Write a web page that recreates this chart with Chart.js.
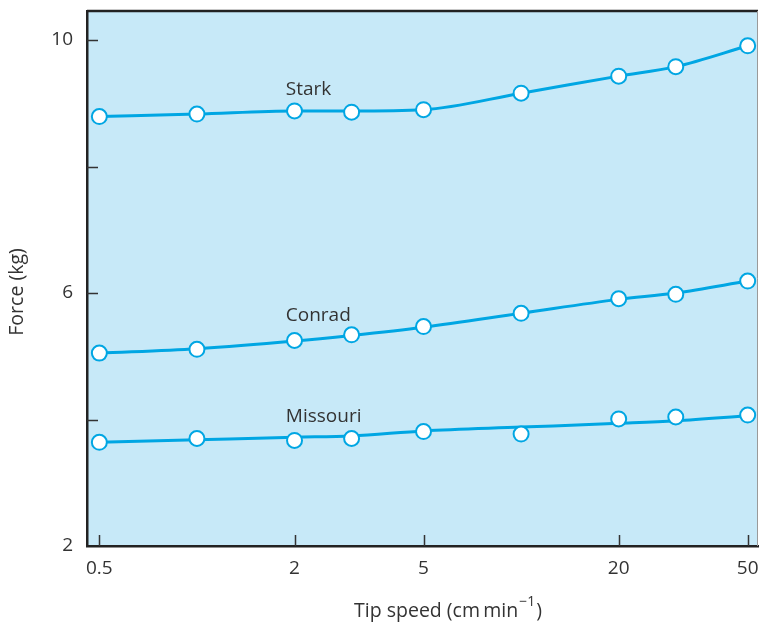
<!DOCTYPE html>
<html>
<head>
<meta charset="utf-8">
<script src="https://cdn.jsdelivr.net/npm/chart.js@4.4.1/dist/chart.umd.min.js"></script>
<style>
  body { margin: 0; background: #fff; }
  #wrap { width: 759px; height: 625px; }
</style>
</head>
<body>
<div id="wrap"><canvas id="chart" width="759" height="625"></canvas></div>
<script>
// tip speed (cm/min) for each measurement
const speeds = [0.5, 1, 2, 3, 5, 10, 20, 30, 50];

// measured force (kg) per variety
const stark = [8.79, 8.83, 8.88, 8.86, 8.90, 9.16, 9.43, 9.58, 9.91];
const conrad = [5.05, 5.11, 5.25, 5.34, 5.47, 5.68, 5.91, 5.98, 6.19];
const missouri = [3.64, 3.70, 3.67, 3.70, 3.81, 3.77, 4.01, 4.04, 4.07];

// drawn smooth curve at the same speeds
const starkCurve = [8.79, 8.83, 8.88, 8.88, 8.90, 9.16, 9.43, 9.58, 9.91];
const conradCurve = [5.05, 5.12, 5.24, 5.33, 5.46, 5.68, 5.90, 6.00, 6.19];
const missouriCurve = [3.64, 3.68, 3.72, 3.74, 3.82, 3.88, 3.94, 3.98, 4.06];

// axis ticks
const xTicks = [0.5, 2, 5, 20, 50];
const yTicks = [2, 4, 6, 8, 10];
const yLabelled = [2, 6, 10];

// series name labels, placed in data coordinates
const seriesNames = ["Stark", "Conrad", "Missouri"];
const nameX = [1.88, 1.88, 1.88];
const nameY = [9.22, 5.65, 4.04];

const FONT = "'Open Sans', 'DejaVu Sans', sans-serif";
const LINE = "#00a6e3";
const TEXT = "#333333";

function toPoints(ys) {
  return speeds.map((s, i) => ({ x: s, y: ys[i] }));
}

function curve(label, ys) {
  return {
    label: label + " curve",
    data: toPoints(ys),
    borderColor: LINE,
    borderWidth: 3,
    cubicInterpolationMode: "monotone",
    pointRadius: 0,
    order: 1,
  };
}

function markers(label, ys) {
  return {
    label,
    data: toPoints(ys),
    showLine: false,
    pointRadius: 7.5,
    pointHoverRadius: 7.5,
    pointBackgroundColor: "#ffffff",
    pointBorderColor: LINE,
    pointBorderWidth: 2,
    order: 0,
  };
}

// keep the plot area exactly where the layout padding puts it
function noScalePadding(s) {
  s.paddingLeft = 0;
  s.paddingRight = 0;
  s.paddingTop = 0;
  s.paddingBottom = 0;
}

// light blue plot background, frame, inward ticks, labels and titles
const decorations = {
  id: "decorations",
  beforeDraw(chart) {
    const { ctx, chartArea: a } = chart;
    ctx.save();
    ctx.fillStyle = "#c7e9f8";
    ctx.fillRect(a.left, a.top, a.right - a.left, a.bottom - a.top);
    ctx.restore();
  },
  afterDraw(chart) {
    const { ctx, chartArea: a } = chart;
    const xs = chart.scales.x;
    const ys = chart.scales.y;
    ctx.save();

    // top and right frame
    ctx.strokeStyle = "#222";
    ctx.lineWidth = 2.5;
    ctx.beginPath();
    ctx.moveTo(a.left, a.top);
    ctx.lineTo(a.right, a.top);
    ctx.stroke();
    ctx.strokeStyle = "#9a9a9a";
    ctx.lineWidth = 1;
    ctx.beginPath();
    ctx.moveTo(a.right - 0.5, a.top);
    ctx.lineTo(a.right - 0.5, a.bottom);
    ctx.stroke();

    // inward tick marks
    ctx.strokeStyle = "#333";
    ctx.lineWidth = 1.5;
    ctx.beginPath();
    xTicks.forEach((v) => {
      const px = Math.round(xs.getPixelForValue(v)) + 0.5;
      ctx.moveTo(px, a.bottom);
      ctx.lineTo(px, a.bottom - 11);
    });
    yTicks.forEach((v) => {
      if (v === ys.min) return;
      const py = Math.round(ys.getPixelForValue(v)) + 0.5;
      ctx.moveTo(a.left, py);
      ctx.lineTo(a.left + 11, py);
    });
    ctx.stroke();

    // series names
    ctx.fillStyle = TEXT;
    ctx.font = "19px " + FONT;
    ctx.textAlign = "left";
    ctx.textBaseline = "middle";
    seriesNames.forEach((name, i) => {
      ctx.fillText(name, xs.getPixelForValue(nameX[i]), ys.getPixelForValue(nameY[i]));
    });

    // y title
    ctx.save();
    ctx.translate(17, 292);
    ctx.rotate(-Math.PI / 2);
    ctx.textAlign = "center";
    ctx.font = "19.5px " + FONT;
    ctx.fillText("Force (kg)", 0, 0);
    ctx.restore();

    // x title with superscript
    const parts = ["Tip speed (cm\u2009min", "\u22121", ")"];
    ctx.font = "19.5px " + FONT;
    const w0 = ctx.measureText(parts[0]).width;
    const w2 = ctx.measureText(parts[2]).width;
    ctx.font = "14px " + FONT;
    const w1 = ctx.measureText(parts[1]).width;
    let x = 448 - (w0 + w1 + w2 + 2) / 2;
    const y = 611;
    ctx.textAlign = "left";
    ctx.font = "19.5px " + FONT;
    ctx.fillText(parts[0], x, y);
    x += w0 + 1;
    ctx.font = "14px " + FONT;
    ctx.fillText(parts[1], x, y - 9);
    x += w1 + 1;
    ctx.font = "19.5px " + FONT;
    ctx.fillText(parts[2], x, y);

    ctx.restore();
  },
};

const chart = new Chart(document.getElementById("chart"), {
  type: "line",
  data: {
    datasets: [
      curve("Stark", starkCurve),
      curve("Conrad", conradCurve),
      curve("Missouri", missouriCurve),
      markers("Stark", stark),
      markers("Conrad", conrad),
      markers("Missouri", missouri),
    ],
  },
  options: {
    responsive: false,
    animation: false,
    layout: { autoPadding: false, padding: { top: 11, right: 1, left: 0, bottom: 0 } },
    plugins: {
      legend: { display: false },
      tooltip: { enabled: false },
    },
    scales: {
      x: {
        type: "logarithmic",
        min: 0.458,
        max: 53.8,
        afterBuildTicks: (s) => {
          s.ticks = xTicks.map((v) => ({ value: v }));
        },
        afterFit: (s) => {
          s.height = 79;
          noScalePadding(s);
        },
        grid: { display: false, drawTicks: false },
        border: { display: true, color: "#222", width: 2.5 },
        ticks: {
          padding: 11,
          color: TEXT,
          font: { family: FONT, size: 19 },
          maxRotation: 0,
          autoSkip: false,
          callback: (v) => String(v),
        },
      },
      y: {
        type: "linear",
        min: 2,
        max: 10.46,
        afterBuildTicks: (s) => {
          s.ticks = yTicks.map((v) => ({ value: v }));
        },
        afterFit: (s) => {
          s.width = 87;
          noScalePadding(s);
        },
        grid: { display: false, drawTicks: false },
        border: { display: true, color: "#222", width: 2.5 },
        ticks: {
          padding: 14,
          color: TEXT,
          font: { family: FONT, size: 19 },
          autoSkip: false,
          callback: (v) => (yLabelled.includes(v) ? String(v) : ""),
        },
      },
    },
  },
  plugins: [decorations],
});
</script>
</body>
</html>
